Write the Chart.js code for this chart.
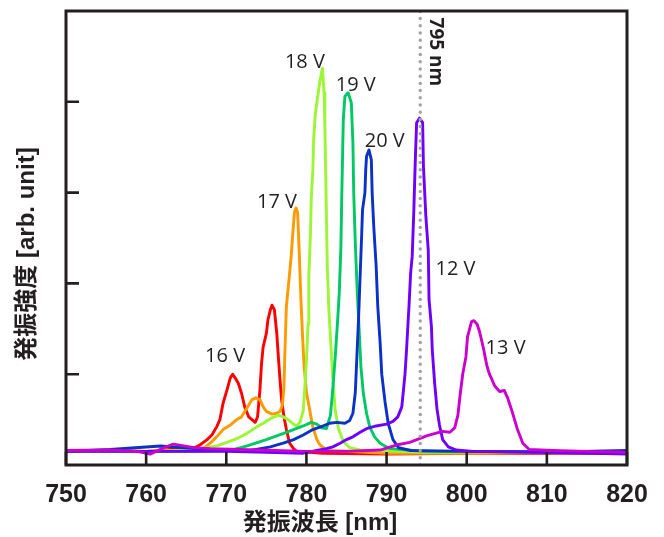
<!DOCTYPE html>
<html>
<head>
<meta charset="utf-8">
<script src="https://cdn.jsdelivr.net/npm/chart.js@4/dist/chart.umd.min.js"></script>
<style>
  html, body { margin: 0; padding: 0; background: #fff; }
  #wrap { width: 664px; height: 537px; }
</style>
</head>
<body>
<div id="wrap"><canvas id="chart" width="664" height="537"></canvas></div>
<script>
'use strict';

// ── data (wavelength nm, intensity arb.) ──
const xTicks = [750, 760, 770, 780, 790, 800, 810, 820];
const yTicks = [1, 2, 3, 4];
const yMax = 5;

const v16 = [[750,0.16],[755,0.16],[760,0.15],[763,0.17],[765,0.17],[766,0.19],[766.7,0.22],[767.6,0.28],[768.2,0.33],[768.8,0.42],[769.2,0.50],[769.6,0.68],[770.1,0.83],[770.5,0.96],[770.8,1.00],[771.1,0.96],[771.5,0.90],[771.9,0.79],[772.3,0.64],[772.8,0.53],[773.2,0.50],[773.6,0.47],[773.9,0.53],[774.2,0.83],[774.4,1.12],[774.6,1.30],[775.0,1.45],[775.2,1.60],[775.5,1.71],[775.7,1.76],[776.0,1.71],[776.3,1.45],[776.5,1.19],[776.7,0.94],[776.9,0.72],[777.2,0.53],[777.5,0.39],[777.9,0.24],[778.4,0.18],[778.8,0.15],[782,0.13],[790,0.12],[800,0.13],[810,0.13],[820,0.13]];

const v17 = [[750,0.16],[760,0.15],[765,0.16],[767.1,0.18],[768.0,0.24],[768.8,0.31],[769.6,0.39],[770.5,0.44],[771.3,0.50],[771.9,0.53],[772.3,0.59],[772.8,0.66],[773.2,0.72],[773.7,0.74],[774.2,0.72],[774.6,0.64],[775.0,0.59],[775.7,0.56],[776.3,0.57],[776.7,0.59],[777.0,0.66],[777.2,0.86],[777.3,1.20],[777.5,1.75],[777.9,2.11],[778.1,2.30],[778.3,2.55],[778.5,2.78],[778.7,2.83],[778.9,2.78],[779.1,2.35],[779.3,1.85],[779.5,1.45],[779.7,1.10],[780.0,0.80],[780.4,0.61],[780.8,0.42],[781.3,0.28],[781.7,0.22],[782.3,0.18],[783.3,0.16],[790,0.13],[800,0.13],[810,0.14],[820,0.14]];

const v18 = [[750,0.15],[760,0.15],[765,0.16],[767.6,0.19],[768.8,0.21],[770.1,0.25],[771.3,0.29],[772.6,0.35],[773.8,0.42],[774.6,0.46],[775.5,0.51],[776.5,0.55],[777.1,0.53],[777.7,0.50],[778.4,0.45],[778.8,0.43],[779.2,0.47],[779.6,0.60],[779.8,0.85],[780.0,1.15],[780.2,1.55],[780.3,2.08],[780.5,2.55],[780.6,2.92],[780.8,3.25],[780.9,3.58],[781.1,3.86],[781.3,3.99],[781.7,4.24],[782.0,4.37],[782.2,4.10],[782.3,3.73],[782.4,3.25],[782.5,2.70],[782.6,2.20],[782.8,1.71],[783.1,1.25],[783.3,0.94],[783.6,0.60],[784.0,0.40],[784.6,0.26],[785.4,0.19],[786.7,0.165],[795,0.14],[805,0.15],[820,0.14]];

const v19 = [[750,0.15],[760,0.15],[766,0.15],[770.5,0.16],[772.6,0.21],[775.0,0.28],[777.5,0.36],[779.6,0.43],[780.6,0.47],[781.3,0.45],[781.9,0.41],[782.5,0.40],[783.0,0.55],[783.3,0.85],[783.6,1.20],[783.9,1.60],[784.1,1.90],[784.3,2.40],[784.4,2.92],[784.5,3.36],[784.6,3.80],[784.8,4.06],[785.2,4.10],[785.6,3.99],[785.8,3.55],[785.9,3.00],[786.1,2.44],[786.35,1.89],[786.6,1.45],[786.8,1.08],[787.1,0.79],[787.5,0.57],[787.9,0.42],[788.5,0.31],[789.2,0.24],[790.4,0.18],[795,0.15],[805,0.15],[820,0.15]];

const v20 = [[750,0.15],[755.5,0.17],[761.8,0.21],[765.9,0.18],[770,0.16],[773,0.16],[775.5,0.20],[777.1,0.24],[778.4,0.28],[779.6,0.33],[780.8,0.39],[782.1,0.43],[782.9,0.46],[783.8,0.47],[784.8,0.46],[785.4,0.49],[785.8,0.57],[786.1,0.80],[786.3,1.20],[786.5,1.60],[786.7,2.08],[786.9,2.55],[787.0,2.81],[787.3,3.00],[787.4,3.25],[787.5,3.40],[787.8,3.47],[788.1,3.36],[788.2,3.00],[788.4,2.63],[788.7,2.19],[788.9,1.75],[789.2,1.34],[789.4,1.00],[789.8,0.70],[790.2,0.46],[790.8,0.28],[791.5,0.19],[793,0.16],[800,0.15],[810,0.14],[820,0.16]];

const v12 = [[750,0.15],[760,0.15],[770,0.15],[775,0.14],[779.6,0.13],[781.3,0.16],[782.5,0.18],[783.3,0.20],[784.2,0.24],[785.0,0.28],[785.8,0.31],[786.7,0.36],[787.5,0.40],[788.7,0.43],[790.0,0.45],[790.8,0.48],[791.4,0.53],[791.9,0.64],[792.1,0.82],[792.3,1.00],[792.5,1.28],[792.7,1.60],[792.8,1.75],[793.0,2.11],[793.2,2.30],[793.4,2.80],[793.6,3.40],[793.75,3.77],[794.1,3.82],[794.5,3.77],[794.6,3.29],[794.9,2.74],[795.2,2.37],[795.3,1.82],[795.6,1.52],[795.7,1.27],[796.0,0.90],[796.3,0.61],[796.6,0.44],[797.0,0.28],[797.7,0.20],[798.7,0.165],[800.8,0.15],[810,0.14],[820,0.12]];

const v13 = [[750,0.16],[755.5,0.165],[758.9,0.15],[760.5,0.12],[762.2,0.19],[763.4,0.23],[764.7,0.21],[766,0.19],[768,0.18],[774,0.165],[780,0.15],[785,0.15],[789.2,0.165],[791.2,0.22],[792.9,0.25],[794.1,0.29],[795.0,0.32],[796.2,0.35],[797.0,0.37],[797.9,0.36],[798.5,0.41],[798.9,0.55],[799.2,0.79],[799.5,1.00],[799.9,1.19],[800.1,1.41],[800.6,1.58],[800.9,1.59],[801.3,1.55],[801.6,1.47],[802.1,1.28],[802.5,1.10],[802.8,1.01],[803.5,0.87],[804.1,0.81],[804.7,0.82],[805.1,0.74],[805.7,0.58],[806.3,0.40],[807.0,0.24],[807.8,0.17],[810.7,0.16],[815,0.15],[820,0.14]];

const refLineNm = 794.2;

const peakLabels = ['16 V', '17 V', '18 V', '19 V', '20 V', '12 V', '13 V'];
const labelNm    = [769.85, 776.33, 779.81, 786.16, 789.77, 798.6, 804.85];
const labelLevel = [1.20, 2.89, 4.44, 4.18, 3.57, 2.15, 1.29];

// ── styling ──
const INK = '#231f20';

function series(pts, color) {
  return {
    data: pts.map(([x, y]) => ({ x, y })),
    borderColor: color, borderWidth: 2.9, pointRadius: 0,
    tension: 0, fill: false, borderJoinStyle: 'round'
  };
}

// first dataset is painted last (on top)
const datasets = [
  { data: [{ x: refLineNm, y: 0 }, { x: refLineNm, y: yMax }],
    borderColor: '#a3a3a3', borderWidth: 3.5, borderDash: [0, 7.2],
    borderCapStyle: 'round', pointRadius: 0 },
  series(v13, '#cc00cc'),
  series(v12, '#6e00ff'),
  series(v20, '#0a32c8'),
  series(v19, '#00c864'),
  series(v18, '#9cf535'),
  series(v17, '#ff9a00'),
  series(v16, '#ff0000')
];

const framePlugin = {
  id: 'frame',
  afterDatasetsDraw(chart) {
    const { ctx, chartArea: a, scales: { x, y } } = chart;
    ctx.save();
    ctx.strokeStyle = INK;
    ctx.lineWidth = 2.6;
    // inward tick marks
    ctx.beginPath();
    xTicks.forEach(v => {
      const px = x.getPixelForValue(v);
      ctx.moveTo(px, a.bottom); ctx.lineTo(px, a.bottom - 13);
    });
    yTicks.forEach(v => {
      const py = y.getPixelForValue(v);
      ctx.moveTo(a.left, py); ctx.lineTo(a.left + 13, py);
    });
    ctx.stroke();
    ctx.lineWidth = 3;
    ctx.strokeRect(a.left, a.top, a.right - a.left, a.bottom - a.top);

    // peak labels
    ctx.fillStyle = INK;
    ctx.font = '20px "Open Sans"';
    ctx.textAlign = 'center';
    ctx.textBaseline = 'middle';
    peakLabels.forEach((t, i) => {
      ctx.fillText(t, x.getPixelForValue(labelNm[i]), y.getPixelForValue(labelLevel[i]));
    });

    // 795 nm marker text, rotated
    ctx.save();
    ctx.translate(x.getPixelForValue(796.1), y.getPixelForValue(4.55));
    ctx.rotate(Math.PI / 2);
    ctx.font = 'bold 19px "Open Sans"';
    ctx.fillText('795 nm', 0, 0);
    ctx.restore();

    // axis titles
    ctx.font = 'bold 24px "Liberation Sans", "Noto Sans CJK JP"';
    ctx.fillText('発振波長 [nm]', 320, 523);
    ctx.save();
    ctx.translate(27, 254);
    ctx.rotate(-Math.PI / 2);
    ctx.fillText('発振強度 [arb. unit]', 0, 0);
    ctx.restore();
    ctx.restore();
  }
};

new Chart(document.getElementById('chart'), {
  type: 'line',
  data: { datasets },
  plugins: [framePlugin],
  options: {
    responsive: false,
    animation: false,
    devicePixelRatio: 1,
    layout: { padding: { top: 11, right: 37, left: 0, bottom: 0 } },
    plugins: { legend: { display: false }, tooltip: { enabled: false } },
    scales: {
      x: {
        type: 'linear', min: xTicks[0], max: xTicks[xTicks.length - 1],
        afterFit: s => { s.height = 72; },
        afterBuildTicks: s => { s.ticks = xTicks.map(v => ({ value: v })); },
        grid: { display: false }, border: { display: false },
        ticks: { color: INK, padding: 7, maxRotation: 0,
                 font: { family: 'Liberation Sans', weight: 'bold', size: 25 } }
      },
      y: {
        type: 'linear', min: 0, max: yMax,
        afterFit: s => { s.width = 66; },
        grid: { display: false }, border: { display: false },
        ticks: { display: false }
      }
    }
  }
});
</script>
</body>
</html>
